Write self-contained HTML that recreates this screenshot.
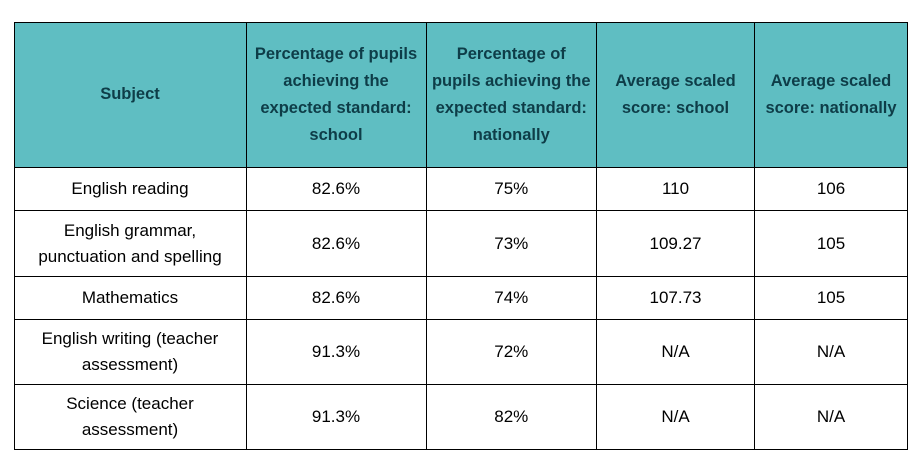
<!DOCTYPE html>
<html><head><meta charset="utf-8"><style>
html,body{margin:0;padding:0;background:#fff;width:918px;height:462px;overflow:hidden}
table{position:absolute;left:13.5px;top:21.5px;border-collapse:collapse;table-layout:fixed;font-family:"Liberation Sans",sans-serif;}
td,th{border:1px solid #000;text-align:center;vertical-align:middle;padding:0 4px;box-sizing:border-box}
th{background:#5fbec2;color:#0e3d48;font-weight:bold;font-size:16.5px;line-height:27px}
td{color:#000;font-size:17px;line-height:26px}
</style></head><body>
<table>
<colgroup><col style="width:232px"><col style="width:180px"><col style="width:170.5px"><col style="width:158px"><col style="width:153px"></colgroup>
<tr style="height:145.5px">
<th>Subject</th>
<th>Percentage of pupils achieving the expected standard: school</th>
<th>Percentage of pupils achieving the expected standard: nationally</th>
<th>Average scaled score: school</th>
<th>Average scaled score: nationally</th>
</tr>
<tr style="height:43px">
<td>English reading</td><td>82.6%</td><td>75%</td><td>110</td><td>106</td></tr>
<tr style="height:66px">
<td>English grammar,<br>punctuation and spelling</td><td>82.6%</td><td>73%</td><td>109.27</td><td>105</td></tr>
<tr style="height:43px">
<td>Mathematics</td><td>82.6%</td><td>74%</td><td>107.73</td><td>105</td></tr>
<tr style="height:65px">
<td>English writing (teacher<br>assessment)</td><td>91.3%</td><td>72%</td><td>N/A</td><td>N/A</td></tr>
<tr style="height:65px">
<td>Science (teacher<br>assessment)</td><td>91.3%</td><td>82%</td><td>N/A</td><td>N/A</td></tr>
</table>
</body></html>
